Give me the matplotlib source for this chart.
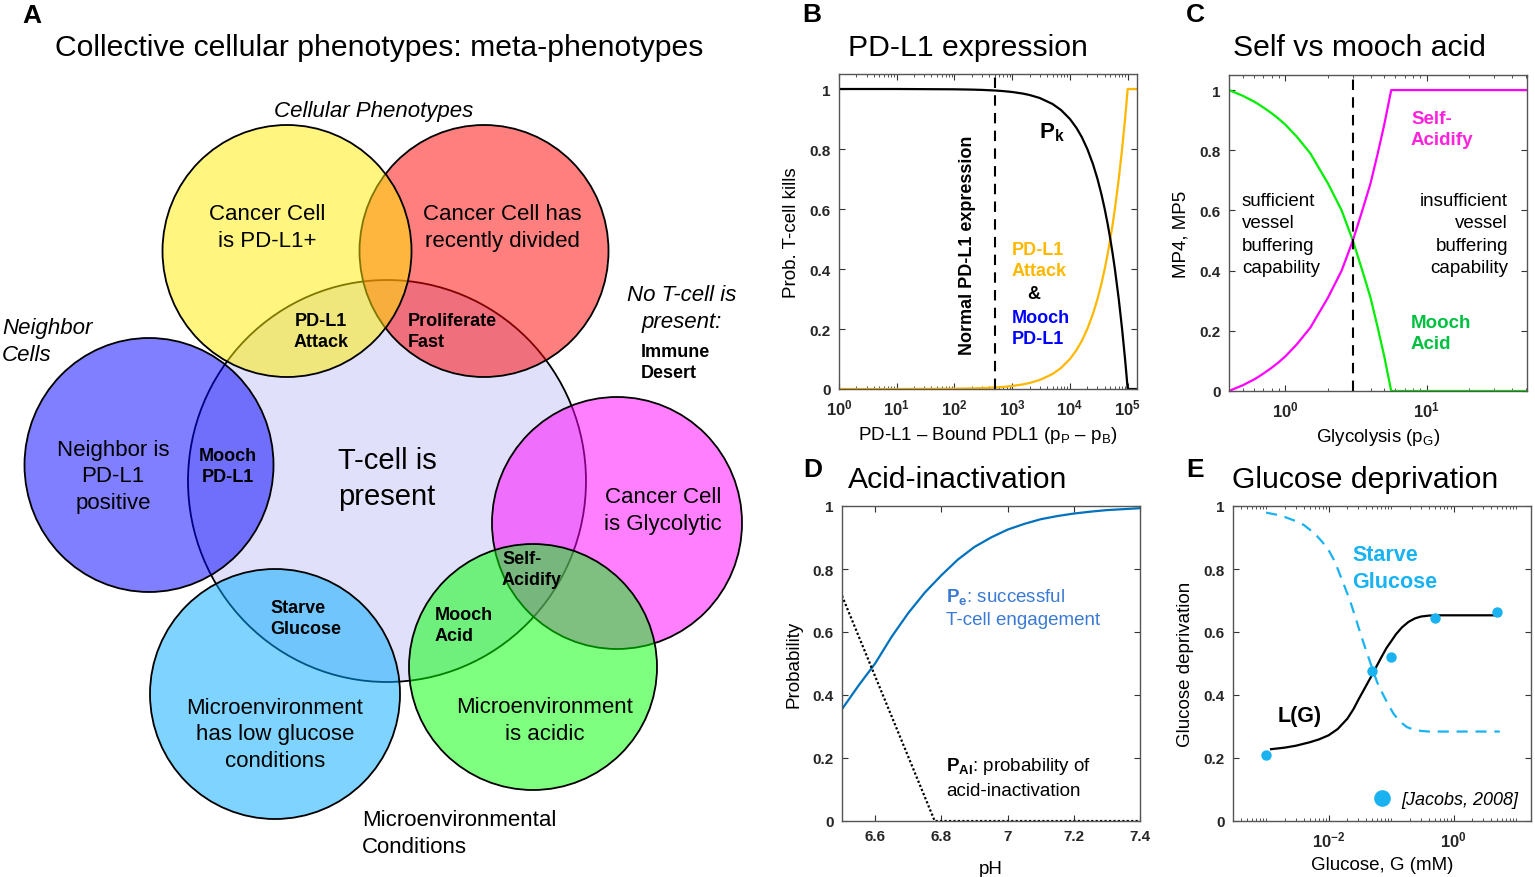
import math
import matplotlib
matplotlib.use('Agg')
import matplotlib.pyplot as plt
from matplotlib.patches import Ellipse
from matplotlib.lines import Line2D
from matplotlib.ticker import FuncFormatter, LogLocator, NullFormatter

plt.rcParams['font.family'] = ['Liberation Sans', 'DejaVu Sans']
plt.rcParams['mathtext.fontset'] = 'custom'
plt.rcParams['mathtext.rm'] = 'Liberation Sans'
plt.rcParams['mathtext.it'] = 'Liberation Sans:italic'
plt.rcParams['mathtext.bf'] = 'Liberation Sans:bold'

W, H = 1535, 878

# ---- panel A: meta-phenotype Venn labels ----
set_labels = ['T-cell is\npresent', 'Cancer Cell has\nrecently divided', 'Cancer Cell\nis PD-L1+',
              'Neighbor is\nPD-L1\npositive', 'Cancer Cell\nis Glycolytic',
              'Microenvironment\nhas low glucose\nconditions', 'Microenvironment\nis acidic']
meta_labels = ['PD-L1\nAttack', 'Proliferate\nFast', 'Mooch\nPD-L1', 'Starve\nGlucose',
               'Mooch\nAcid', 'Self-\nAcidify']

# ---- panel B: PD-L1 expression ----
pd_x = [1, 10, 100, 200, 300, 500, 700, 1000, 1500, 2000, 3000, 5000, 7000, 1e4, 1.3e4,
        1.6e4, 2e4, 2.5e4, 3e4, 3.5e4, 4e4, 4.5e4, 5e4, 5.5e4, 6e4, 7e4, 8e4, 9e4, 9.5e4,
        1e5, 1.45e5]
pk = [1.0, 1.0, 0.999, 0.998, 0.997, 0.995, 0.993, 0.99, 0.985, 0.98, 0.97, 0.95, 0.93,
      0.90, 0.87, 0.84, 0.80, 0.75, 0.70, 0.65, 0.60, 0.55, 0.50, 0.45, 0.40, 0.30, 0.20,
      0.10, 0.05, 0.0, 0.0]
pd_attack = [0.0, 0.0, 0.001, 0.002, 0.003, 0.005, 0.007, 0.01, 0.015, 0.02, 0.03, 0.05,
             0.07, 0.10, 0.13, 0.16, 0.20, 0.25, 0.30, 0.35, 0.40, 0.45, 0.50, 0.55, 0.60,
             0.70, 0.80, 0.90, 0.95, 1.0, 1.0]
normal_pdl1 = 500

# ---- panel C: self vs mooch acid ----
gly_x = [0.4, 0.45, 0.5, 0.55, 0.6, 0.65, 0.7, 0.8, 0.9, 1.0, 1.2, 1.5, 2.0, 2.5, 3.0, 3.5,
         4.0, 4.5, 5.0, 5.6, 51]
mooch_acid = [1.0, 0.99, 0.981, 0.971, 0.962, 0.952, 0.942, 0.923, 0.904, 0.885, 0.846,
              0.79, 0.69, 0.60, 0.50, 0.40, 0.31, 0.21, 0.115, 0.0, 0.0]
self_acid = [0.0, 0.01, 0.019, 0.029, 0.038, 0.048, 0.058, 0.077, 0.096, 0.115, 0.154,
             0.21, 0.31, 0.40, 0.50, 0.60, 0.69, 0.79, 0.885, 1.0, 1.0]
gly_split = 3.0

# ---- panel D: acid inactivation ----
ph = [6.5, 6.55, 6.6, 6.65, 6.7, 6.75, 6.8, 6.85, 6.9, 6.95, 7.0, 7.05, 7.1, 7.15, 7.2,
      7.25, 7.3, 7.35, 7.4]
pe = [0.355, 0.43, 0.50, 0.585, 0.66, 0.725, 0.78, 0.83, 0.87, 0.90, 0.925, 0.943, 0.958,
      0.968, 0.976, 0.982, 0.987, 0.99, 0.993]
pai_ph = [6.5, 6.78, 7.4]
pai = [0.715, 0.0, 0.0]

# ---- panel E: glucose deprivation ----
jacobs_g = [0.001, 0.05, 0.1, 0.5, 5.0]
jacobs_y = [0.21, 0.475, 0.52, 0.645, 0.665]
lg_g = [0.0012, 0.002, 0.003, 0.005, 0.007, 0.01, 0.014, 0.02, 0.025, 0.03, 0.04, 0.05,
        0.06, 0.07, 0.085, 0.1, 0.12, 0.15, 0.19, 0.24, 0.3, 0.4, 0.6, 5.5]
lg_y = [0.228, 0.233, 0.239, 0.25, 0.259, 0.272, 0.292, 0.325, 0.355, 0.385, 0.43, 0.465,
        0.495, 0.52, 0.55, 0.57, 0.593, 0.615, 0.632, 0.643, 0.649, 0.652, 0.653, 0.653]
starve_g = [0.001, 0.0015, 0.002, 0.003, 0.004, 0.005, 0.0065, 0.008, 0.01, 0.0125, 0.015,
            0.018, 0.022, 0.027, 0.033, 0.04, 0.05, 0.06, 0.075, 0.09, 0.11, 0.14, 0.18,
            0.23, 0.3, 0.4, 5.5]
starve_y = [0.979, 0.972, 0.965, 0.952, 0.94, 0.925, 0.905, 0.885, 0.86, 0.825, 0.785,
            0.745, 0.70, 0.645, 0.59, 0.54, 0.485, 0.44, 0.40, 0.37, 0.34, 0.315, 0.298,
            0.29, 0.286, 0.284, 0.284]

fig = plt.figure(figsize=(W / 100, H / 100), dpi=100)


def box(l, t, r, b):
    return [l / W, 1 - b / H, (r - l) / W, (b - t) / H]


# ================= panel A =================
ax0 = fig.add_axes([0, 0, 770 / W, 1])
ax0.set_xlim(0, 770)
ax0.set_ylim(H, 0)
ax0.axis('off')

circles = [  # cx, cy, w, h, face
    (387, 482, 398, 402, (0.878, 0.878, 0.98, 1.0)),
    (484, 252, 249, 252, (1.0, 0.0, 0.0, 0.5)),
    (287, 252, 249, 252, (1.0, 0.93, 0.0, 0.5)),
    (149, 466, 249, 254, (0.0, 0.0, 1.0, 0.5)),
    (617, 524, 250, 252, (1.0, 0.0, 1.0, 0.5)),
    (275, 695, 250, 250, (0.0, 0.67, 1.0, 0.5)),
    (533, 668, 248, 246, (0.0, 1.0, 0.0, 0.5)),
]
for cx, cy, w, h, fc in circles:
    ax0.add_patch(Ellipse((cx, cy), w, h, facecolor=fc, edgecolor='k', lw=1.3))

set_pos = [(387, 479, 21, 1.33), (502, 228, 16, 1.35), (267, 228, 16, 1.35),
           (113, 477, 16, 1.35), (663, 511, 16, 1.35), (275, 735, 16, 1.35),
           (545, 721, 16, 1.35)]
for s, (x, y, fs, lsp) in zip(set_labels, set_pos):
    ax0.text(x, y, s, ha='center', va='center', fontsize=fs, linespacing=lsp)

meta_pos = [(321, 332, 'center'), (408, 332, 'left'), (228, 467, 'center'),
            (270, 619, 'left'), (435, 626, 'left'), (502, 570, 'left')]
for s, (x, y, ha) in zip(meta_labels, meta_pos):
    ax0.text(x, y, s, ha=ha, va='center', fontsize=13, fontweight='bold', linespacing=1.38)

ax0.text(374, 111, 'Cellular Phenotypes', ha='center', va='center', fontsize=16, style='italic')
ax0.text(2, 342, 'Neighbor\nCells', ha='left', va='center', fontsize=16, style='italic',
         linespacing=1.35)
ax0.text(682, 309, 'No T-cell is\npresent:', ha='center', va='center', fontsize=16,
         style='italic', linespacing=1.35)
ax0.text(641, 363, 'Immune\nDesert', ha='left', va='center', fontsize=13, fontweight='bold',
         linespacing=1.35)
ax0.text(362, 834, 'Microenvironmental\nConditions', ha='left', va='center', fontsize=16,
         linespacing=1.35)

fig.text(55 / W, 1 - 48 / H, 'Collective cellular phenotypes: meta-phenotypes', fontsize=21.7,
         va='center', ha='left')

# panel letters and titles
for lab, x, y in [('A', 22, 16), ('B', 802, 15), ('C', 1186, 15), ('D', 803, 470), ('E', 1186, 470)]:
    fig.text(x / W, 1 - y / H, lab, fontsize=19, fontweight='bold', va='center', ha='left')
for t, x, y in [('PD-L1 expression', 848, 48), ('Self vs mooch acid', 1233, 48),
                ('Acid-inactivation', 848, 480), ('Glucose deprivation', 1232, 480)]:
    fig.text(x / W, 1 - y / H, t, fontsize=21.7, va='center', ha='left')


def style(ax, xlabel, ylabel):
    for s in ax.spines.values():
        s.set_color('#555555')
        s.set_linewidth(1)
    ax.tick_params(which='both', direction='in', top=True, right=True, labelsize=11,
                   colors='#333333', labelcolor='#262626')
    ax.tick_params(which='major', length=4, pad=6)
    ax.tick_params(which='minor', length=2)
    ax.set_yticks([0, 0.2, 0.4, 0.6, 0.8, 1])
    ax.yaxis.set_major_formatter(FuncFormatter(lambda v, p: f'{v:g}'))
    plt.setp(ax.get_yticklabels(), fontweight='bold')
    ax.set_xlabel(xlabel, fontsize=13.5, labelpad=5)
    ax.set_ylabel(ylabel, fontsize=13.5, labelpad=7)


def log_fmt(v, p):
    return r'$\mathbf{10^{%d}}$' % round(math.log10(v))


def log_axis(ax):
    ax.xaxis.set_major_formatter(FuncFormatter(log_fmt))
    ax.xaxis.set_minor_formatter(NullFormatter())
    for t in ax.get_xticklabels():
        t.set_fontsize(12)


# ================= panel B =================
axB = fig.add_axes(box(839, 75, 1137, 390))
axB.plot(pd_x, pd_attack, color='#ffb800', lw=1.6)
axB.plot(pd_x, pk, color='k', lw=1.6)
axB.axvline(normal_pdl1, color='k', lw=1.5, dashes=(5, 3.5))
axB.set_xscale('log')
axB.set_xlim(1, 1.45e5)
axB.set_ylim(0, 1.05)
axB.xaxis.set_major_locator(LogLocator(base=10, numticks=10))
style(axB, r'PD-L1 – Bound PDL1 (p$_\mathrm{P}$ – p$_\mathrm{B}$)', 'Prob. T-cell kills')
log_axis(axB)
fig.text(967 / W, 1 - 245 / H, 'Normal PD-L1 expression', rotation=90, fontsize=13,
         fontweight='bold', ha='center', va='center')
fig.text(1039 / W, 1 - 133 / H, r'$\mathbf{P_k}$', fontsize=16, ha='left', va='center')
fig.text(1012 / W, 1 - 261 / H, 'PD-L1\nAttack', fontsize=13, fontweight='bold',
         color='#ffb800', ha='left', va='center', linespacing=1.35)
fig.text(1034 / W, 1 - 295 / H, '&', fontsize=13, fontweight='bold', ha='center', va='center')
fig.text(1012 / W, 1 - 329 / H, 'Mooch\nPD-L1', fontsize=13, fontweight='bold',
         color='#0000ff', ha='left', va='center', linespacing=1.35)

# ================= panel C =================
axC = fig.add_axes(box(1229, 76, 1527, 392))
axC.plot(gly_x, mooch_acid, color='#00ee00', lw=1.6)
axC.plot(gly_x, self_acid, color='#ff00ff', lw=1.6)
axC.axvline(gly_split, color='k', lw=1.5, dashes=(5, 3.5))
axC.set_xscale('log')
axC.set_xlim(0.4, 51)
axC.set_ylim(0, 1.05)
axC.xaxis.set_major_locator(LogLocator(base=10, numticks=10))
style(axC, r'Glycolysis (p$_\mathrm{G}$)', 'MP4, MP5')
log_axis(axC)
fig.text(1411 / W, 1 - 130 / H, 'Self-\nAcidify', fontsize=13.5, fontweight='bold',
         color='#ff22dd', ha='left', va='center', linespacing=1.38)
fig.text(1411 / W, 1 - 334 / H, 'Mooch\nAcid', fontsize=13.5, fontweight='bold',
         color='#00c040', ha='left', va='center', linespacing=1.38)
fig.text(1242 / W, 1 - 235 / H, 'sufficient\nvessel\nbuffering\ncapability', fontsize=13.5,
         ha='left', va='center', linespacing=1.4)
fig.text(1508 / W, 1 - 235 / H, 'insufficient\nvessel\nbuffering\ncapability', fontsize=13.5,
         ha='right', va='center', linespacing=1.4, multialignment='right')

# ================= panel D =================
axD = fig.add_axes(box(842, 507, 1140, 822))
axD.plot(ph, pe, color='#0072bd', lw=1.6)
axD.plot(pai_ph, pai, color='k', lw=1.6, ls=(0, (1, 1)))
axD.set_xlim(6.5, 7.4)
axD.set_ylim(0, 1)
axD.set_xticks([6.6, 6.8, 7.0, 7.2, 7.4])
axD.xaxis.set_major_formatter(FuncFormatter(lambda v, p: f'{v:g}'))
style(axD, 'pH', 'Probability')
plt.setp(axD.get_xticklabels(), fontweight='bold')
axD.xaxis.labelpad = 12
fig.text(946 / W, 1 - 608 / H, r'$\mathbf{P_e}$: successful' + '\nT-cell engagement',
         fontsize=13.5, color='#3a7ad5', ha='left', va='center', linespacing=1.4)
fig.text(946 / W, 1 - 778 / H, r'$\mathbf{P_{AI}}$: probability of' + '\nacid-inactivation',
         fontsize=13.5, color='k', ha='left', va='center', linespacing=1.4)

# ================= panel E =================
cyan = '#1ab2f0'
axE = fig.add_axes(box(1233, 507, 1531, 822))
axE.plot(starve_g, starve_y, color=cyan, lw=1.6, dashes=(5, 3.5))
axE.plot(lg_g, lg_y, color='k', lw=1.6)
axE.plot(jacobs_g, jacobs_y, 'o', color=cyan, ms=7.5, mec='none')
axE.set_xscale('log')
axE.set_xlim(10 ** -3.53, 10 ** 1.24)
axE.set_ylim(0, 1)
axE.xaxis.set_major_locator(LogLocator(base=100, numticks=10))
axE.xaxis.set_minor_locator(LogLocator(base=10, subs=(1, 2, 3, 4, 5, 6, 7, 8, 9), numticks=20))
style(axE, 'Glucose, G (mM)', 'Glucose deprivation')
log_axis(axE)
axE.legend(handles=[Line2D([], [], marker='o', ls='', color=cyan, ms=12, mec='none')],
           labels=['[Jacobs, 2008]'], loc='lower right', frameon=False,
           prop={'style': 'italic', 'size': 13}, handletextpad=0.1, borderaxespad=0.3)
fig.text(1352 / W, 1 - 569 / H, 'Starve\nGlucose', fontsize=15.5, fontweight='bold',
         color=cyan, ha='left', va='center', linespacing=1.4)
fig.text(1278 / W, 1 - 717 / H, 'L(G)', fontsize=15.5, fontweight='bold', ha='left', va='center')

fig.savefig('out.png', dpi=100)
